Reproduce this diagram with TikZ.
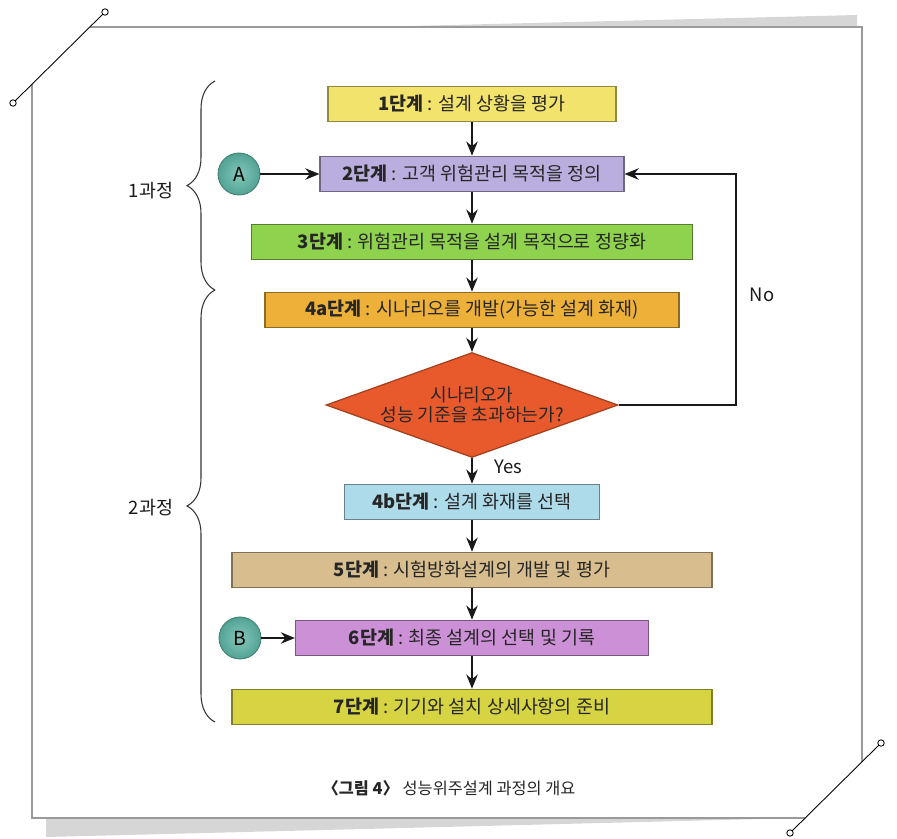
\documentclass[tikz,border=0pt]{standalone}
\usepackage{fontspec}
\setmainfont{Noto Sans CJK KR}
\usetikzlibrary{shapes.geometric,arrows.meta,decorations.pathreplacing}

% Box colours
\definecolor{stepyellow}{HTML}{F2E36C}
\definecolor{steplilac}{HTML}{B9AEDD}
\definecolor{stepgreen}{HTML}{8ED24E}
\definecolor{stepgold}{HTML}{EDB13A}
\definecolor{steporange}{HTML}{E85A2C}
\definecolor{stepsky}{HTML}{AEDBEA}
\definecolor{steptan}{HTML}{D8BE8E}
\definecolor{steporchid}{HTML}{CC90D6}
\definecolor{stepolive}{HTML}{D6D443}
\definecolor{markteal}{HTML}{5BB5A5}
\definecolor{framegray}{HTML}{9A9A9A}

\begin{document}
\begin{tikzpicture}[x=0.02cm,y=-0.02cm,
  stepbox/.style={rectangle, draw=#1!60!black, fill=#1, line width=0.7pt,
    minimum height=0.71cm, inner sep=0pt, text=black!85,
    font=\fontsize{10.5}{12}\selectfont},
  decision/.style={diamond, draw=#1!70!black, fill=#1, line width=0.7pt,
    minimum width=5.84cm, minimum height=2.1cm, inner sep=0pt},
  marker/.style={circle, draw=markteal!70!black, line width=0.5pt,
    inner color=markteal!75!white, outer color=markteal!90!black,
    minimum size=0.84cm, inner sep=0pt, font=\fontsize{11}{12}\selectfont},
  flow/.style={-{Stealth[length=8pt,width=6.5pt]}, line width=1.1pt, black!90},
  bracket/.style={decorate, decoration={brace, amplitude=0.56cm}, line width=0.6pt, black!80},
  phase/.style={font=\fontsize{10.5}{12}\selectfont, text=black!90},
  answer/.style={font=\fontsize{10.5}{12}\selectfont, text=black!90},
  pin/.style={draw=black, fill=white, line width=0.5pt}]

% Fix the page size
\useasboundingbox (0,0) rectangle (897,839);

% Shadow wedges of the frame
\fill[black!16] (370,27) -- (857,15) -- (857,27) -- cycle;
\fill[black!16] (46,818) -- (46,837) -- (800,818) -- cycle;

% Frame, cut at two corners
\draw[framegray, line width=0.7pt] (90,27) -- (862,27) -- (862,762);
\draw[framegray, line width=0.7pt] (32,84) -- (32,818) -- (805,818);

% Corner pins
\draw[line width=0.5pt] (13,103) -- (105,12);
\draw[line width=0.5pt] (881,743) -- (790,833);
\draw[pin] (13,103) circle (3.2);
\draw[pin] (105,12) circle (3.2);
\draw[pin] (881,743) circle (3.2);
\draw[pin] (790,833) circle (3.2);

% Steps
\node[stepbox=stepyellow, minimum width=5.76cm] (s1) at (472,104)
  {\textbf{1단계} : 설계 상황을 평가};
\node[stepbox=steplilac, minimum width=6.08cm] (s2) at (472,174)
  {\textbf{2단계} : 고객 위험관리 목적을 정의};
\node[stepbox=stepgreen, minimum width=8.82cm] (s3) at (472,242)
  {\textbf{3단계} : 위험관리 목적을 설계 목적으로 정량화};
\node[stepbox=stepgold, minimum width=8.28cm] (s4a) at (472,310)
  {\textbf{4a단계} : 시나리오를 개발(가능한 설계 화재)};
\node[decision=steporange,
  label={[align=center, font=\fontsize{10.3}{11.3}\selectfont, text=black!85]center:{시나리오가\\성능 기준을 초과하는가?}}]
  (dec) at (472,405) {};
\node[stepbox=stepsky, minimum width=5.1cm] (s4b) at (472,502)
  {\textbf{4b단계} : 설계 화재를 선택};
\node[stepbox=steptan, minimum width=9.6cm] (s5) at (472,570)
  {\textbf{5단계} : 시험방화설계의 개발 및 평가};
\node[stepbox=steporchid, minimum width=7.06cm] (s6) at (472,638)
  {\textbf{6단계} : 최종 설계의 선택 및 기록};
\node[stepbox=stepolive, minimum width=9.6cm] (s7) at (472,707)
  {\textbf{7단계} : 기기와 설치 상세사항의 준비};

% Entry markers
\node[marker] (ma) at (239,174) {A};
\node[marker] (mb) at (240,638) {B};

% Main flow
\draw[flow] (s1) -- (s2);
\draw[flow] (s2) -- (s3);
\draw[flow] (s3) -- (s4a);
\draw[flow] (s4a) -- (dec);
\draw[flow] (dec) -- (s4b);
\draw[flow] (s4b) -- (s5);
\draw[flow] (s5) -- (s6);
\draw[flow] (s6) -- (s7);
\draw[flow] (ma) -- (s2);
\draw[flow] (mb) -- (s6);

% Loop back when the scenario fails
\coordinate (nocorner) at (736,174);
\draw[flow] (dec.east) -| (nocorner) -- (s2.east);

% Answers
\node[answer] (yes) at (508,467) {Yes};
\node[answer] (no) at (762,295) {No};

% Phases
\draw[bracket] (215,290) -- (215,81);
\draw[bracket] (215,722) -- (215,290);
\node[phase] (p1) at (151,191) {1과정};
\node[phase] (p2) at (151,508) {2과정};

% Caption
\node[font=\fontsize{9.3}{11}\selectfont, text=black!85] (cap) at (449,788)
  {\textbf{〈그림 4〉} 성능위주설계 과정의 개요};

\end{tikzpicture}
\end{document}
